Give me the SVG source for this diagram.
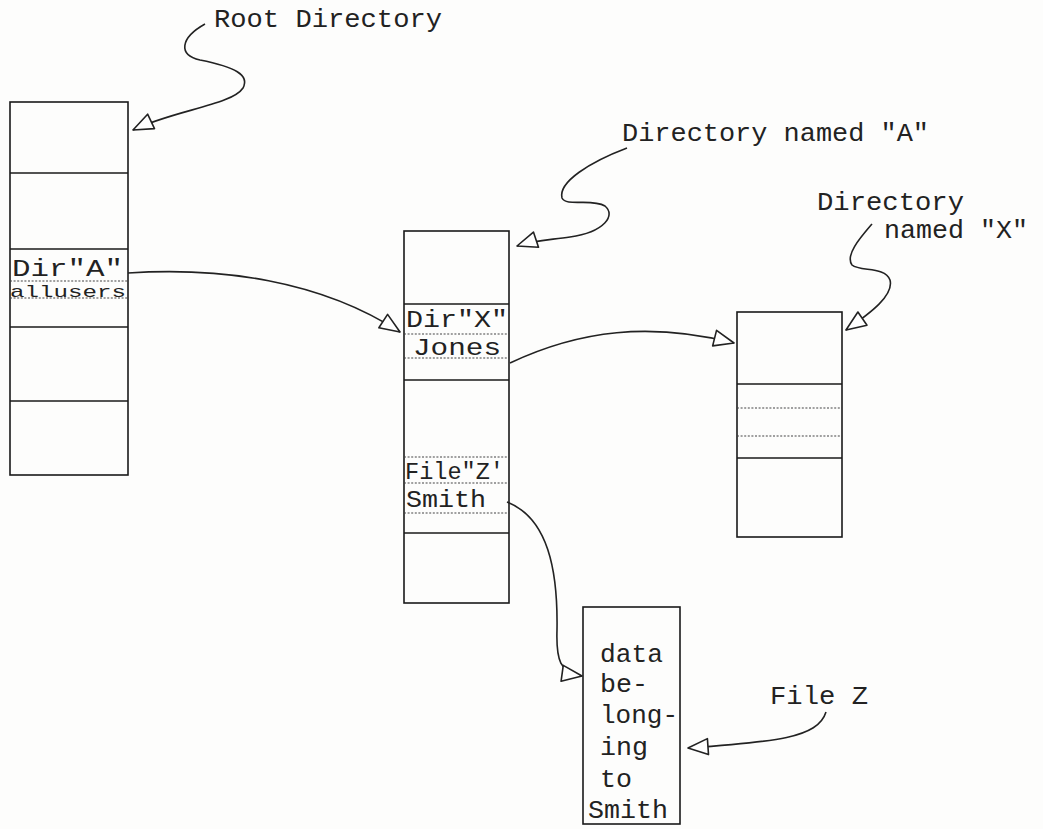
<svg xmlns="http://www.w3.org/2000/svg" width="1043" height="829" viewBox="0 0 1043 829">
<style>
.bg{fill:#fdfdfc}
.box{fill:none;stroke:#1a1a1a;stroke-width:1.6}
.sep{stroke:#1a1a1a;stroke-width:1.4}
.dot{stroke:#444;stroke-width:1.2;stroke-dasharray:2 1.6}
.t{font-family:"Liberation Mono","DejaVu Sans Mono",monospace;font-size:26px;fill:#222}
.tr{font-size:23px}
.ts{font-size:17px}
.c{fill:none;stroke:#222;stroke-width:1.6}
</style>
<defs>
<marker id="ah" markerUnits="userSpaceOnUse" markerWidth="26" markerHeight="22" refX="22" refY="10" orient="auto" overflow="visible">
<path d="M2,2 L22,10 L2,18 Z" fill="#fff" stroke="#222" stroke-width="1.6" stroke-linejoin="round"/>
</marker>
</defs>
<rect class="bg" x="0" y="0" width="1043" height="829"/>

<g id="root-dir">
<rect class="box" x="10" y="102" width="118" height="373"/>
<line class="sep" x1="10" y1="173" x2="128" y2="173"/>
<line class="sep" x1="10" y1="249" x2="128" y2="249"/>
<line class="dot" x1="10" y1="281" x2="128" y2="281"/>
<line class="dot" x1="10" y1="298" x2="128" y2="298"/>
<line class="sep" x1="10" y1="327" x2="128" y2="327"/>
<line class="sep" x1="10" y1="401" x2="128" y2="401"/>
<text class="t tr" x="12" y="276" textLength="111" lengthAdjust="spacingAndGlyphs">Dir"A"</text>
<text class="t ts" x="10" y="297" textLength="116" lengthAdjust="spacingAndGlyphs">allusers</text>
</g>

<g id="dir-a">
<rect class="box" x="404" y="231" width="105" height="372"/>
<line class="sep" x1="404" y1="304" x2="509" y2="304"/>
<line class="dot" x1="404" y1="334" x2="509" y2="334"/>
<line class="dot" x1="404" y1="358" x2="509" y2="358"/>
<line class="sep" x1="404" y1="380" x2="509" y2="380"/>
<line class="dot" x1="404" y1="457" x2="509" y2="457"/>
<line class="dot" x1="404" y1="483" x2="509" y2="483"/>
<line class="dot" x1="404" y1="513" x2="509" y2="513"/>
<line class="sep" x1="404" y1="533" x2="509" y2="533"/>
<text class="t tr" x="406" y="327" textLength="102" lengthAdjust="spacingAndGlyphs">Dir"X"</text>
<text class="t tr" x="413" y="355" textLength="88" lengthAdjust="spacingAndGlyphs">Jones</text>
<text class="t tr" x="405" y="479" textLength="99" lengthAdjust="spacingAndGlyphs">File"Z'</text>
<text class="t tr" x="406" y="507" textLength="80" lengthAdjust="spacingAndGlyphs">Smith</text>
</g>

<g id="dir-x">
<rect class="box" x="737" y="312" width="105" height="225"/>
<line class="sep" x1="737" y1="384" x2="842" y2="384"/>
<line class="dot" x1="737" y1="408" x2="842" y2="408"/>
<line class="dot" x1="737" y1="436" x2="842" y2="436"/>
<line class="sep" x1="737" y1="458" x2="842" y2="458"/>
</g>

<g id="file-z">
<rect class="box" x="583" y="607" width="97" height="217"/>
<text class="t" x="600" y="662" textLength="63" lengthAdjust="spacingAndGlyphs">data</text>
<text class="t" x="600" y="692" textLength="48" lengthAdjust="spacingAndGlyphs">be-</text>
<text class="t" x="600" y="723" textLength="78" lengthAdjust="spacingAndGlyphs">long-</text>
<text class="t" x="600" y="755" textLength="48" lengthAdjust="spacingAndGlyphs">ing</text>
<text class="t" x="600" y="787" textLength="32" lengthAdjust="spacingAndGlyphs">to</text>
<text class="t" x="588" y="818" textLength="80" lengthAdjust="spacingAndGlyphs">Smith</text>
</g>

<g id="labels">
<text class="t" x="214" y="27" textLength="228" lengthAdjust="spacingAndGlyphs">Root Directory</text>
<text class="t" x="622" y="141" textLength="307" lengthAdjust="spacingAndGlyphs">Directory named "A"</text>
<text class="t" x="817" y="210" textLength="147" lengthAdjust="spacingAndGlyphs">Directory</text>
<text class="t" x="884" y="238" textLength="144" lengthAdjust="spacingAndGlyphs">named "X"</text>
<text class="t" x="770" y="704" textLength="98" lengthAdjust="spacingAndGlyphs">File Z</text>
</g>

<g id="connectors">
<path class="c" marker-end="url(#ah)" d="M205,24 C180,38 178,55 200,60 C235,67 250,75 243,88 C232,105 175,110 133,130"/>
<path class="c" marker-end="url(#ah)" d="M128,273 C220,267 320,280 400,332"/>
<path class="c" marker-end="url(#ah)" d="M510,363 C580,330 650,322 734,343"/>
<path class="c" marker-end="url(#ah)" d="M507,502 C548,518 558,570 557,630 C556,660 560,673 582,676"/>
<path class="c" marker-end="url(#ah)" d="M627,148 C590,162 558,182 562,198 C566,207 592,198 605,206 C616,215 605,232 570,237 C550,240 535,240 517,246"/>
<path class="c" marker-end="url(#ah)" d="M872,224 C860,238 845,255 852,265 C860,272 885,266 890,280 C894,295 872,312 846,330"/>
<path class="c" marker-end="url(#ah)" d="M826,712 C818,738 775,742 688,748"/>
</g>
</svg>
